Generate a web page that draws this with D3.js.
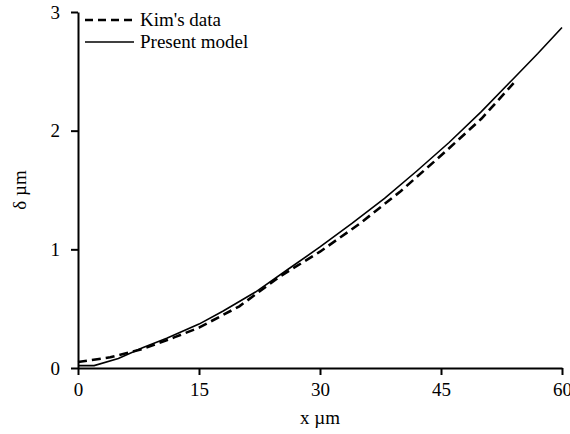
<!DOCTYPE html>
<html>
<head>
<meta charset="utf-8">
<script src="https://cdn.jsdelivr.net/npm/d3@7"></script>
<style>
  html, body { margin: 0; padding: 0; background: #fff; }
</style>
</head>
<body>
<svg id="chart" width="570" height="434"></svg>
<script>
// Deflection δ (µm) along position x (µm)
const kimX = [0, 4, 8, 12, 15, 20, 25, 30, 35, 40, 45, 50, 54];
const kimY = [0.05, 0.09, 0.16, 0.26, 0.34, 0.52, 0.77, 0.98, 1.22, 1.49, 1.79, 2.10, 2.40];

const modelX = [0, 2, 5, 8, 11, 15, 18, 22, 26, 30, 34, 38, 42, 46, 50, 54, 57, 60];
const modelY = [0.02, 0.02, 0.08, 0.17, 0.25, 0.37, 0.48, 0.64, 0.83, 1.02, 1.22, 1.43, 1.66, 1.90, 2.16, 2.44, 2.65, 2.87];

const xTicks = [0, 15, 30, 45, 60];
const yTicks = [0, 1, 2, 3];

const seriesNames = ["Kim's data", "Present model"];

const FONT = "'Times New Roman', 'Liberation Serif', Times, 'DejaVu Serif', serif";
const FS = 19;

const margin = { top: 12, right: 8, bottom: 66, left: 78 };
const W = 570, H = 434;
const svg = d3.select("#chart")
  .style("font-family", FONT);

const x = d3.scaleLinear().domain([0, 60]).range([margin.left, W - margin.right]);
const y = d3.scaleLinear().domain([0, 3]).range([H - margin.bottom, margin.top]);

const line = d3.line().x(d => x(d[0])).y(d => y(d[1]));

const kim = d3.zip(kimX, kimY);
const model = d3.zip(modelX, modelY);

// curves
svg.append("path")
  .datum(model)
  .attr("d", line)
  .attr("fill", "none")
  .attr("stroke", "#000")
  .attr("stroke-width", 1.6);

svg.append("path")
  .datum(kim)
  .attr("d", line)
  .attr("fill", "none")
  .attr("stroke", "#000")
  .attr("stroke-width", 2.6)
  .attr("stroke-dasharray", "9,5");

// axes
const fmt = d3.format("d");
const xAxis = svg.append("g")
  .attr("transform", `translate(0,${y(0)})`)
  .call(d3.axisBottom(x).tickValues(xTicks).tickFormat(fmt).tickSize(7).tickSizeOuter(0).tickPadding(8));

const yAxis = svg.append("g")
  .attr("transform", `translate(${x(0)},0)`)
  .call(d3.axisLeft(y).tickValues(yTicks).tickFormat(fmt).tickSize(7).tickSizeOuter(0).tickPadding(11));

[xAxis, yAxis].forEach(g => {
  g.attr("font-family", FONT).attr("font-size", FS);
  g.select(".domain").attr("stroke", "#000").attr("stroke-width", 2);
  g.selectAll(".tick line").attr("stroke", "#000").attr("stroke-width", 2);
  g.selectAll(".tick text").attr("fill", "#000");
});

// axis titles
svg.append("text")
  .attr("x", x(30))
  .attr("y", 424)
  .attr("text-anchor", "middle")
  .attr("font-size", FS)
  .text("x µm");

svg.append("text")
  .attr("transform", `translate(26,${y(1.5)}) rotate(-90)`)
  .attr("text-anchor", "middle")
  .attr("font-size", FS)
  .text("δ µm");

// legend
const legend = svg.append("g");
const legendRows = [
  { name: seriesNames[0], dash: "8,5", width: 2.6, yPos: 20 },
  { name: seriesNames[1], dash: null, width: 1.6, yPos: 42 }
];
legendRows.forEach(r => {
  legend.append("line")
    .attr("x1", 85).attr("x2", 134)
    .attr("y1", r.yPos).attr("y2", r.yPos)
    .attr("stroke", "#000")
    .attr("stroke-width", r.width)
    .attr("stroke-dasharray", r.dash);
  legend.append("text")
    .attr("x", 140)
    .attr("y", r.yPos + 6)
    .attr("font-size", FS)
    .text(r.name);
});
</script>
</body>
</html>
